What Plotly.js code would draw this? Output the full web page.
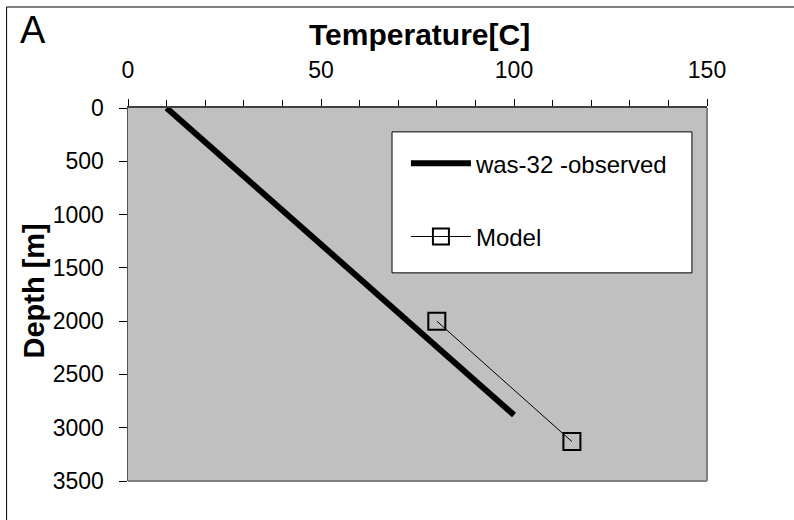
<!DOCTYPE html>
<html>
<head>
<meta charset="utf-8">
<script src="https://cdn.plot.ly/plotly-3.0.1.min.js"></script>
<style>html,body{margin:0;padding:0;background:#fff;}#chart{width:794px;height:520px;}</style>
</head>
<body>
<div id="chart"></div>
<script>
// Data
const observedTemp = [10, 100];
const observedDepth = [0, 2880];
const modelTemp = [80, 115];
const modelDepth = [2000, 3130];
const xTickVals = [0, 50, 100, 150];
const yTickVals = [0, 500, 1000, 1500, 2000, 2500, 3000, 3500];
const seriesNames = ['was-32 -observed', 'Model'];

const FONT = 'Liberation Sans, Arial, sans-serif';

const traces = [
  {
    x: observedTemp, y: observedDepth, name: seriesNames[0],
    type: 'scatter', mode: 'lines',
    line: {color: '#000', width: 6},
    legendgroup: 'g1'
  },
  {
    x: modelTemp, y: modelDepth, name: seriesNames[1],
    type: 'scatter', mode: 'lines+markers',
    line: {color: '#000', width: 1},
    marker: {symbol: 'square-open', size: 17, color: '#000', line: {width: 2, color: '#000'}},
    legendgroup: 'g2'
  }
];

const layout = {
  width: 794, height: 520,
  margin: {l: 128, r: 87, t: 108, b: 39, pad: 0},
  paper_bgcolor: '#ffffff',
  plot_bgcolor: '#c0c0c0',
  font: {family: FONT, size: 23, color: '#000'},
  showlegend: true,
  legend: {
    x: 0.48, y: 0.911, xanchor: 'left', yanchor: 'top',
    bgcolor: 'rgba(0,0,0,0)', borderwidth: 0,
    font: {family: FONT, size: 24, color: '#000'},
    itemwidth: 60, traceorder: 'grouped', tracegroupgap: 39
  },
  xaxis: {
    side: 'top', range: [0, 150], tickvals: xTickVals,
    ticks: 'outside', ticklen: 7, tickwidth: 1, tickcolor: '#000',
    minor: {dtick: 10, ticks: 'outside', ticklen: 6, tickwidth: 1, tickcolor: '#000', showgrid: false},
    showline: true, linecolor: '#404040', linewidth: 2,
    showgrid: false, zeroline: false,
    ticklabelstandoff: 12,
    tickfont: {family: FONT, size: 23, color: '#000'}
  },
  yaxis: {
    range: [3500, 0], tickvals: yTickVals,
    ticks: 'outside', ticklen: 8, tickwidth: 1, tickcolor: '#000',
    showline: true, linecolor: '#555', linewidth: 1.5,
    showgrid: false, zeroline: false,
    ticklabelstandoff: 10,
    tickfont: {family: FONT, size: 23, color: '#000'}
  },
  shapes: [
    // legend box
    {type: 'rect', xref: 'paper', yref: 'paper', x0: 0.456, x1: 0.974, y0: 0.558, y1: 0.936,
     fillcolor: '#ffffff', line: {color: '#000', width: 1}, layer: 'above'},
    // right and bottom plot border
    {type: 'line', xref: 'paper', yref: 'paper', x0: 1, x1: 1, y0: 0, y1: 1, line: {color: '#808080', width: 2}},
    {type: 'line', xref: 'paper', yref: 'paper', x0: 0, x1: 1, y0: 0, y1: 0, line: {color: '#808080', width: 2}},
    // outer chart border
    {type: 'rect', xref: 'paper', yref: 'paper', x0: -0.2097, x1: 1.16, y0: -0.14, y1: 1.2708,
     line: {color: '#000', width: 1}, fillcolor: 'rgba(0,0,0,0)', layer: 'below'}
  ],
  annotations: [
    {text: 'A', xref: 'paper', yref: 'paper', x: -0.19, y: 1.272, xanchor: 'left', yanchor: 'top',
     showarrow: false, font: {family: FONT, size: 38, color: '#000'}},
    {text: '<b>Temperature[C]</b>', xref: 'paper', yref: 'paper', x: 0.503, y: 1.198, xanchor: 'center', yanchor: 'middle',
     showarrow: false, font: {family: FONT, size: 30, color: '#000'}},
    {text: '<b>Depth [m]</b>', xref: 'paper', yref: 'paper', x: -0.164, y: 0.508, xanchor: 'center', yanchor: 'middle',
     textangle: -90, showarrow: false, font: {family: FONT, size: 29, color: '#000'}}
  ]
};

Plotly.newPlot('chart', traces, layout, {displayModeBar: false, staticPlot: true});
</script>
</body>
</html>
